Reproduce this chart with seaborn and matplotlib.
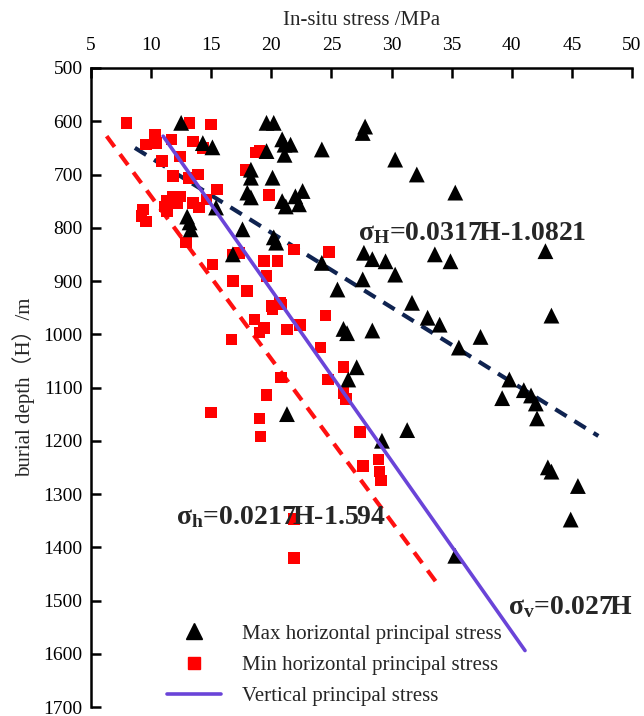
import matplotlib
matplotlib.use("Agg")
import matplotlib.pyplot as plt
from matplotlib.lines import Line2D
import seaborn as sns
import pandas as pd

# Maximum horizontal principal stress measurements (MPa, depth m)
max_stress = [12.5, 14.3, 15.1, 19.6, 20.2, 19.6, 18.3, 18.3, 20.1, 18.0, 18.3, 15.4,
              13.0, 13.2, 13.3, 17.6, 20.2, 16.8, 27.8, 27.6, 20.9, 21.6, 21.1, 21.1,
              24.2, 30.3, 32.1, 35.3, 22.6, 22.0, 20.9, 22.3, 21.2, 20.4, 24.2, 27.7,
              28.4, 29.5, 30.3, 27.6, 25.5, 31.7, 33.6, 34.9, 42.8, 43.3, 33.0, 34.0,
              35.6, 37.4, 26.0, 26.3, 28.4, 27.1, 26.4, 21.3, 39.8, 41.0, 41.6, 42.0,
              39.2, 42.1, 43.0, 43.3, 29.2, 31.3, 35.3, 45.5, 44.9]
max_depth = [603, 641, 649, 603, 603, 656, 691, 706, 706, 734, 743, 762,
             779, 790, 803, 803, 818, 850, 610, 622, 634, 644, 644, 663,
             653, 672, 700, 734, 731, 741, 750, 756, 760, 828, 866, 847,
             859, 863, 888, 897, 916, 941, 850, 863, 844, 965, 969, 982,
             1025, 1005, 990, 998, 993, 1062, 1085, 1150, 1085, 1105, 1115, 1130,
             1120, 1158, 1250, 1258, 1200, 1180, 1416, 1285, 1348]

# Minimum horizontal principal stress measurements (MPa, depth m)
min_stress = [7.95, 13.2, 15.0, 10.3, 9.6, 10.4, 11.7, 13.5, 14.3, 18.7, 10.9, 12.4,
              17.9, 11.8, 13.1, 13.9, 15.5, 19.8, 11.8, 12.4, 11.3, 11.1, 12.2, 13.5,
              14.0, 14.6, 9.3, 9.6, 9.2, 11.3, 12.9, 15.1, 16.8, 17.3, 19.4, 19.0,
              21.9, 24.8, 20.5, 19.6, 20.7, 20.0, 16.8, 18.0, 20.1, 20.8, 18.6, 19.0,
              19.4, 21.3, 16.7, 20.8, 19.6, 15.0, 19.0, 19.1, 22.4, 24.1, 24.5, 24.7,
              26.0, 26.2, 26.0, 27.4, 27.6, 28.9, 29.0, 29.1, 21.9, 21.9]
min_depth = [603, 603, 606, 625, 644, 641, 634, 638, 650, 659, 675, 666,
             691, 703, 706, 700, 728, 738, 741, 741, 750, 760, 753, 753,
             762, 747, 766, 788, 778, 769, 828, 869, 850, 847, 863, 656,
             841, 845, 863, 891, 941, 947, 900, 919, 953, 944, 972, 997,
             988, 991, 1010, 1081, 1114, 1147, 1158, 1192, 983, 1025, 965, 1085,
             1062, 1122, 1110, 1184, 1247, 1235, 1258, 1275, 1347, 1420]

# Trend lines (end points: stress MPa, depth m)
sv_stress = [11.0, 41.1]
sv_depth = [628, 1594]
sH_stress = [8.65, 47.2]
sH_depth = [650, 1191]
sh_stress = [6.3, 33.7]
sh_depth = [628, 1465]

sns.set_theme(style="ticks")
plt.rcParams["font.family"] = ["Liberation Serif", "DejaVu Serif"]
plt.rcParams["mathtext.fontset"] = "custom"
plt.rcParams["mathtext.rm"] = "Liberation Serif"
plt.rcParams["mathtext.bf"] = "Liberation Serif:bold"
plt.rcParams["mathtext.it"] = "Liberation Serif:italic"

W, H = 644, 716
fig = plt.figure(figsize=(W / 100, H / 100), dpi=100)
ax = fig.add_axes([91 / W, 1 - 707 / H, (632 - 91) / W, 639 / H])

df_max = pd.DataFrame({"stress": max_stress, "depth": max_depth})
df_min = pd.DataFrame({"stress": min_stress, "depth": min_depth})

sns.lineplot(x=sh_stress, y=sh_depth, ax=ax, color="#ff1010", lw=3,
             linestyle=(0, (3.2, 2.2)), sort=False, estimator=None)
sns.lineplot(x=sH_stress, y=sH_depth, ax=ax, color="#0f2350", lw=3,
             linestyle=(0, (3.2, 2.2)), sort=False, estimator=None)
sns.scatterplot(data=df_min, x="stress", y="depth", ax=ax, marker="s", s=70,
                color="#ff0000", edgecolor="none", zorder=3)
sns.scatterplot(data=df_max, x="stress", y="depth", ax=ax, marker="^", s=130,
                color="black", edgecolor="none", zorder=4)
sns.lineplot(x=sv_stress, y=sv_depth, ax=ax, color="#6a44d8", lw=2.6,
             sort=False, estimator=None, zorder=5)

ax.set_xlim(5, 50)
ax.set_ylim(1700, 500)
ax.set_xticks(range(5, 51, 5))
ax.set_yticks(range(500, 1701, 100))
ax.xaxis.tick_top()
ax.xaxis.set_label_position("top")
ax.tick_params(axis="both", direction="in", length=7, width=1.8, labelsize=14,
               colors="black")
ax.tick_params(axis="x", top=True, bottom=False, pad=10)
ax.tick_params(axis="y", pad=6)
for side in ["right", "bottom"]:
    ax.spines[side].set_visible(False)
for side in ["left", "top"]:
    ax.spines[side].set_linewidth(1.8)
    ax.spines[side].set_color("black")

ax.set_xlabel("In-situ stress /MPa", fontsize=15, labelpad=9)
ax.set_ylabel("burial depth（H）/m", fontsize=15, labelpad=6,
              family=["Liberation Serif", "Noto Sans CJK SC"])


def px(x, y):
    return x / W, 1 - y / H


ax.text(*px(472, 233), r"$\mathbf{\sigma_H}$=0.0317H-1.0821", transform=fig.transFigure,
        fontsize=20, fontweight="bold", ha="center", va="center")
ax.text(*px(281, 517), r"$\mathbf{\sigma_h}$=0.0217H-1.594", transform=fig.transFigure,
        fontsize=20, fontweight="bold", ha="center", va="center")
ax.text(*px(570, 607), r"$\mathbf{\sigma_v}$=0.027H", transform=fig.transFigure,
        fontsize=20, fontweight="bold", ha="center", va="center")

handles = [
    Line2D([], [], marker="^", color="black", linestyle="none", markersize=11),
    Line2D([], [], marker="s", color="#ff0000", linestyle="none", markersize=8),
    Line2D([], [], color="#6a44d8", lw=2.6),
]
labels = ["Max horizontal principal stress", "Min horizontal principal stress",
          "Vertical principal stress"]
fig.legend(handles, labels, loc="center left", bbox_to_anchor=(px(148, 665)),
           frameon=False, fontsize=15, handlelength=2.6, handletextpad=1.0,
           labelspacing=0.55)

fig.savefig("out.png", dpi=100)
